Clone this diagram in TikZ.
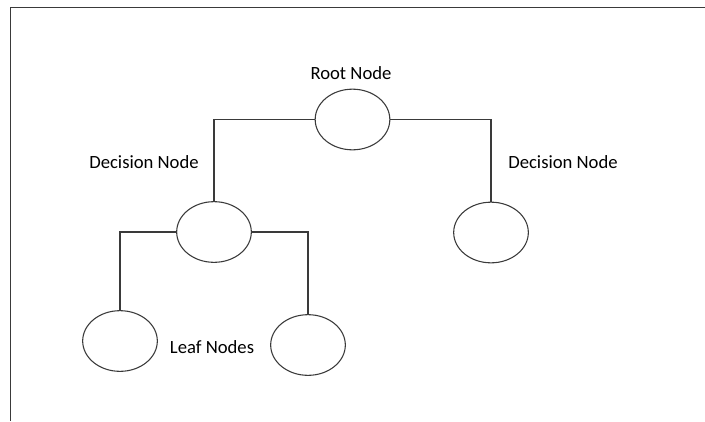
\documentclass[tikz,border=0pt]{standalone}
\usepackage{fontspec}
\setmainfont{Carlito}
\usetikzlibrary{shapes.geometric}
\definecolor{ink}{HTML}{3A3A3A}
\begin{document}
\begin{tikzpicture}[x=0.75pt,y=-0.75pt,
  treenode/.style={ellipse,draw=ink,line width=0.8pt,minimum width=56pt,minimum height=45.5pt,inner sep=0pt},
  lbl/.style={font=\fontsize{14pt}{16pt}\selectfont,text=black,inner sep=0pt},
  link/.style={draw=ink,line width=0.8pt},
  frame/.style={draw=ink,line width=1pt}]
\useasboundingbox (0,0) rectangle (705,421);
% frame
\coordinate (ftr) at (705,7.5);
\coordinate (ftl) at (10.5,7.5);
\coordinate (fbl) at (10.5,421);
\draw[frame] (ftr) -- (ftl) -- (fbl);
% nodes
\node[treenode] (root) at (352.5,119.5) {};
\node[treenode] (dl) at (214,232) {};
\node[treenode] (dr) at (491,232.5) {};
\node[treenode] (l1) at (120,341) {};
\node[treenode] (l2) at (308,345) {};
% labels
\node[lbl] (troot) at (351,73) {Root Node};
\node[lbl] (tdl) at (144,162) {Decision Node};
\node[lbl] (tdr) at (563,162) {Decision Node};
\node[lbl] (tleaf) at (212,347) {Leaf Nodes};
% connectors
\draw[link] (root.west) -| (dl.north);
\draw[link] (root.east) -| (dr.north);
\draw[link] (dl.west) -| (l1.north);
\draw[link] (dl.east) -| (l2.north);
\end{tikzpicture}
\end{document}
